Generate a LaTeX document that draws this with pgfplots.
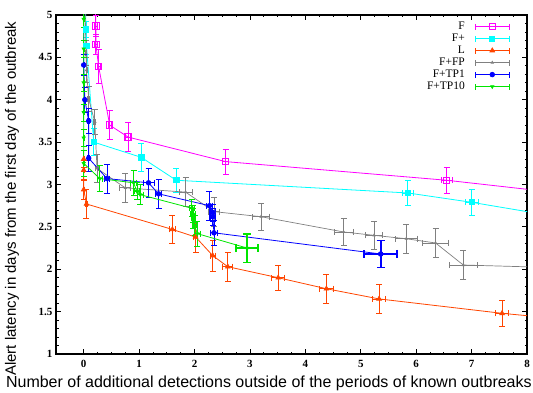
\documentclass[border=0pt]{standalone}
\usepackage{fontspec}
\setmainfont{Liberation Serif}
\newfontfamily\labelfont{Liberation Sans}
\usepackage{pgfplots}
\usepackage{pgfplotstable}
\pgfplotsset{compat=1.18}
\definecolor{cF}{RGB}{255,0,255}
\definecolor{cFp}{RGB}{0,255,255}
\definecolor{cL}{RGB}{255,69,0}
\definecolor{cFP}{RGB}{128,128,128}
\definecolor{cTP}{RGB}{0,0,255}
\definecolor{cTT}{RGB}{0,230,0}
\pgfplotsset{legend image code/.code={%
  \draw[#1,mark=none] (0pt,0pt)--(34pt,0pt);
  \draw[#1,mark=none] (0pt,-3pt)--(0pt,3pt);
  \draw[#1,mark=none] (34pt,-3pt)--(34pt,3pt);
  \draw[#1] plot coordinates {(17pt,0pt)};
}}

\pgfplotstableread{
x y ex ey
0.20 5.30 0.02 0.15
0.22 4.87 0.02 0.12
0.22 4.65 0.02 0.12
0.27 4.39 0.03 0.20
0.47 3.70 0.03 0.17
0.80 3.56 0.05 0.17
2.56 3.27 0.06 0.15
6.55 3.05 0.10 0.15
9.00 2.87 0.10 0.15
}\dataF
\pgfplotstableread{
x y ex ey
0.03 5.30 0.01 0.10
0.04 4.83 0.01 0.10
0.05 4.64 0.01 0.10
0.18 3.50 0.02 0.16
1.04 3.32 0.03 0.16
1.67 3.05 0.05 0.14
5.85 2.90 0.10 0.15
7.00 2.79 0.12 0.15
9.00 2.57 0.12 0.15
}\dataFp
\pgfplotstableread{
x y ex ey
0.00 3.30 0.01 0.10
0.00 3.17 0.01 0.12
0.00 2.94 0.01 0.12
0.05 2.77 0.02 0.17
1.60 2.47 0.06 0.16
2.02 2.38 0.04 0.18
2.33 2.16 0.05 0.18
2.60 2.03 0.09 0.17
3.51 1.90 0.12 0.15
4.38 1.77 0.12 0.17
5.33 1.65 0.12 0.17
7.55 1.48 0.12 0.15
9.00 1.39 0.12 0.15
}\dataL
\pgfplotstableread{
x y ex ey
0.02 5.30 0.01 0.15
0.04 4.55 0.01 0.15
0.05 4.35 0.01 0.15
0.09 4.01 0.02 0.15
0.20 3.74 0.02 0.15
0.24 3.19 0.03 0.17
0.75 2.96 0.10 0.17
1.84 2.91 0.12 0.17
2.35 2.68 0.10 0.17
3.20 2.62 0.15 0.16
4.69 2.44 0.17 0.16
5.24 2.40 0.15 0.17
5.82 2.36 0.20 0.17
6.35 2.31 0.23 0.17
6.85 2.05 0.25 0.17
9.00 2.01 0.25 0.17
}\dataFP
\pgfplotstableread{
x y ex ey
0.00 5.30 0.01 0.15
0.00 4.41 0.01 0.12
0.02 4.00 0.01 0.15
0.09 3.75 0.02 0.15
0.09 3.31 0.02 0.15
0.42 3.07 0.05 0.17
1.17 3.02 0.10 0.17
1.35 2.89 0.06 0.17
2.27 2.75 0.06 0.17
2.33 2.67 0.04 0.10
2.33 2.62 0.04 0.10
2.35 2.43 0.07 0.15
5.36 2.18 0.30 0.16
}\dataTP
\pgfplotstableread{
x y ex ey
0.00 5.30 0.01 0.10
0.00 4.95 0.01 0.10
0.00 4.60 0.01 0.10
0.00 4.20 0.01 0.10
0.00 3.85 0.01 0.10
0.00 3.55 0.01 0.10
0.00 3.25 0.01 0.15
0.29 3.07 0.04 0.15
0.90 3.02 0.05 0.15
0.96 2.92 0.05 0.10
1.02 2.88 0.06 0.12
1.95 2.72 0.04 0.10
1.97 2.65 0.04 0.10
1.98 2.60 0.04 0.12
2.00 2.52 0.04 0.12
2.05 2.42 0.06 0.15
2.95 2.25 0.20 0.17
}\dataTT

\begin{document}
\begin{tikzpicture}
\begin{axis}[
  scale only axis, width=471pt, height=339pt,
  xmin=-0.5, xmax=8, ymin=1, ymax=5,
  xtick={0,1,...,8}, ytick={1,1.5,...,5},
  minor x tick num=3, minor y tick num=4,
  tick align=inside, major tick length=5pt, minor tick length=2.5pt,
  tick style={line width=0.8pt, black},
  axis line style={line width=1.2pt},
  ticklabel style={font=\fontsize{11}{12}\selectfont\bfseries},
  /pgf/number format/assume math mode=true,
  xticklabel style={yshift=-3pt},
  xlabel={Number of additional detections outside of the periods of known outbreaks},
  ylabel={Alert latency in days from the first day of the outbreak},
  xlabel style={font=\labelfont\fontsize{16}{18}\selectfont, at={(axis description cs:0.452,-0.0855)}, anchor=center},
  ylabel style={font=\labelfont\fontsize{15}{17}\selectfont, at={(axis description cs:-0.0934,0.458)}, anchor=center},
  legend plot pos=right, legend cell align=right,
  legend style={draw=none, fill=none, at={(axis description cs:0.97,0.99)}, anchor=north east,
    font=\fontsize{11.5}{12}\selectfont, row sep=0pt, column sep=10pt,
    nodes={inner sep=0pt, text height=8.5pt, text depth=3.5pt}},
  error bars/error bar style={line width=0.8pt},
  error bars/error mark options={rotate=90, mark size=3pt, line width=0.8pt},
]
\coordinate (bl) at (rel axis cs:0,0);
\coordinate (tr) at (rel axis cs:1,1);
\addplot[cF, line width=0.8pt, mark=square, mark size=3.2pt, mark options={line width=1pt},
  error bars/.cd, x dir=both, y dir=both, x explicit, y explicit]
  table[x=x, y=y, x error=ex, y error=ey] {\dataF};
\addlegendentry{F}
\addplot[cFp, line width=0.8pt, mark=square*, mark size=2.6pt,
  error bars/.cd, x dir=both, y dir=both, x explicit, y explicit]
  table[x=x, y=y, x error=ex, y error=ey] {\dataFp};
\addlegendentry{F+}
\addplot[cL, line width=0.8pt, mark=triangle*, mark size=2.6pt,
  error bars/.cd, x dir=both, y dir=both, x explicit, y explicit]
  table[x=x, y=y, x error=ex, y error=ey] {\dataL};
\addlegendentry{L}
\addplot[cFP, line width=0.7pt, mark=triangle*, mark size=1.3pt,
  error bars/.cd, x dir=both, y dir=both, x explicit, y explicit]
  table[x=x, y=y, x error=ex, y error=ey] {\dataFP};
\addlegendentry{F+FP}
\addplot[cTP, line width=0.8pt, mark=*, mark size=2.3pt,
  error bars/.cd, x dir=both, y dir=both, x explicit, y explicit]
  table[x=x, y=y, x error=ex, y error=ey] {\dataTP};
\addlegendentry{F+TP1}
\addplot[cTT, line width=0.8pt, mark=triangle*, mark size=1.8pt, mark options={rotate=180},
  error bars/.cd, x dir=both, y dir=both, x explicit, y explicit]
  table[x=x, y=y, x error=ex, y error=ey] {\dataTT};
\addlegendentry{F+TP10}
\addplot[cTP, only marks, mark=*, mark size=2.3pt, forget plot,
  error bars/.cd, x dir=both, y dir=both, x explicit, y explicit,
  error bar style={line width=1.8pt}, error mark options={rotate=90, mark size=4pt, line width=1.8pt}]
  coordinates {(5.36,2.18) +- (0.30,0.16)};
\addplot[cTT, only marks, mark=triangle*, mark size=1.8pt, forget plot,
  error bars/.cd, x dir=both, y dir=both, x explicit, y explicit,
  error bar style={line width=1.8pt}, error mark options={rotate=90, mark size=4pt, line width=1.8pt}]
  coordinates {(2.95,2.25) +- (0.20,0.17)};
\end{axis}
\pgfresetboundingbox
\path[use as bounding box] ([xshift=-56pt,yshift=-38pt]bl) rectangle ([xshift=6pt,yshift=15pt]tr);
\end{tikzpicture}
\end{document}
